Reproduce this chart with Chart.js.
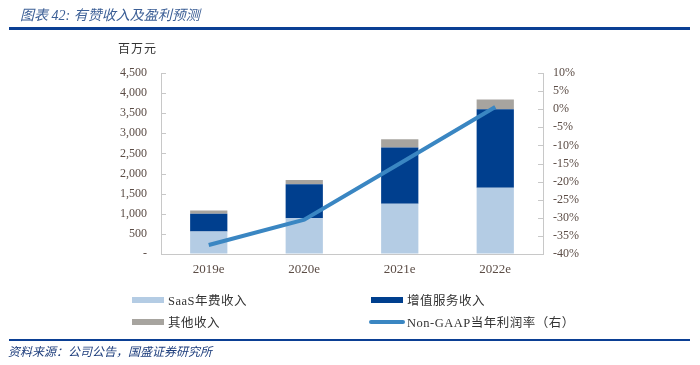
<!DOCTYPE html>
<html><head><meta charset="utf-8">
<script src="https://cdn.jsdelivr.net/npm/chart.js@4.4.1/dist/chart.umd.min.js"></script>
<style>
html,body{margin:0;padding:0;background:#fff;}
#wrap{position:relative;width:700px;height:365px;overflow:hidden;font-family:"Liberation Serif","Noto Sans CJK SC",serif;}
#c{position:absolute;left:0;top:0;}
.title{position:absolute;left:20px;top:4px;font-size:14px;font-style:italic;color:#3c5f96;font-family:"Liberation Serif","Noto Sans CJK SC",serif;}
.rule{position:absolute;left:9px;width:681px;background:#0b3f94;}
.unit{position:absolute;left:118px;top:39px;font-size:12px;color:#333;font-family:"Noto Sans CJK SC",serif;letter-spacing:1px;}
.src{position:absolute;left:8px;top:342px;font-size:12px;font-style:italic;color:#1d3d7c;font-family:"Noto Sans CJK SC",serif;}
.leg{position:absolute;font-size:12.5px;color:#333;font-family:"Liberation Serif","Noto Sans CJK SC",serif;display:flex;align-items:center;white-space:nowrap;letter-spacing:0.5px;}
.sw{display:inline-block;width:32px;height:6px;margin-right:4px;}
.swl{display:inline-block;width:36px;height:4px;border-radius:2px;margin-right:2px;}
</style></head>
<body><div id="wrap">
<canvas id="c" width="700" height="365"></canvas>
<div class="title">图表 42:  有赞收入及盈利预测</div>
<div class="rule" style="top:27px;height:3px;"></div>
<div class="unit">百万元</div>
<div id="legend"></div>
<div class="rule" style="top:339px;height:2px;"></div>
<div class="src">资料来源：公司公告，国盛证券研究所</div>
</div>
<script>
const categories = ["2019e", "2020e", "2021e", "2022e"];
const saasRevenue = [560, 890, 1250, 1650];
const valueAddedRevenue = [440, 845, 1400, 1950];
const otherRevenue = [80, 105, 200, 240];
const nonGaapMargin = [-37.5, -30.5, -15, 0.6];
const leftTickLabels = ["-", "500", "1,000", "1,500", "2,000", "2,500", "3,000", "3,500", "4,000", "4,500"];
const rightTickLabels = ["-40%", "-35%", "-30%", "-25%", "-20%", "-15%", "-10%", "-5%", "0%", "5%", "10%"];
const seriesNames = ["SaaS年费收入", "增值服务收入", "其他收入", "Non-GAAP当年利润率（右）"];
const colors = ["#b4cce4", "#003f8e", "#a7a49f", "#3a86c2"];

// legend (HTML)
const legendPos = [[132, 290], [371, 290], [132, 312], [369, 312]];
const lg = document.getElementById('legend');
seriesNames.forEach((n, i) => {
  const d = document.createElement('div');
  d.className = 'leg';
  d.style.left = legendPos[i][0] + 'px';
  d.style.top = legendPos[i][1] + 'px';
  const s = document.createElement('span');
  s.className = i === 3 ? 'swl' : 'sw';
  s.style.background = colors[i];
  d.appendChild(s);
  d.appendChild(document.createTextNode(n));
  lg.appendChild(d);
});

const axisColor = '#c8c8c8';
const tickFont = {family: "'Liberation Serif', serif", size: 12};
const tickColor = '#5b4c45';

const innerTicks = {
  id: 'innerTicks',
  afterDraw(chart) {
    const ctx = chart.ctx;
    ctx.save();
    ctx.strokeStyle = axisColor;
    ctx.lineWidth = 1;
    const y = chart.scales.y, y1 = chart.scales.y1;
    y.ticks.forEach((t, i) => {
      const p = Math.round(y.getPixelForTick(i)) + 0.5;
      ctx.beginPath(); ctx.moveTo(y.right, p); ctx.lineTo(y.right + 5, p); ctx.stroke();
    });
    y1.ticks.forEach((t, i) => {
      const p = Math.round(y1.getPixelForTick(i)) + 0.5;
      ctx.beginPath(); ctx.moveTo(y1.left - 5, p); ctx.lineTo(y1.left, p); ctx.stroke();
    });
    ctx.restore();
  }
};

new Chart(document.getElementById('c'), {
  data: {
    labels: categories,
    datasets: [
      {type: 'line', label: seriesNames[3], data: nonGaapMargin, yAxisID: 'y1', borderColor: colors[3], borderWidth: 4, pointRadius: 0, tension: 0, order: 0, borderCapStyle: 'butt'},
      {type: 'bar', label: seriesNames[0], data: saasRevenue, backgroundColor: colors[0], yAxisID: 'y', stack: 's', order: 1, categoryPercentage: 1, barPercentage: 0.39},
      {type: 'bar', label: seriesNames[1], data: valueAddedRevenue, backgroundColor: colors[1], yAxisID: 'y', stack: 's', order: 1, categoryPercentage: 1, barPercentage: 0.39},
      {type: 'bar', label: seriesNames[2], data: otherRevenue, backgroundColor: colors[2], yAxisID: 'y', stack: 's', order: 1, categoryPercentage: 1, barPercentage: 0.39}
    ]
  },
  options: {
    responsive: false,
    animation: false,
    layout: {padding: {top: 73, left: 0, right: 0, bottom: 0}},
    plugins: {legend: {display: false}, tooltip: {enabled: false}},
    scales: {
      x: {
        stacked: true,
        grid: {display: true, drawOnChartArea: false, drawTicks: false},
        border: {color: axisColor, width: 1},
        ticks: {font: {family: "'Liberation Serif', serif", size: 13}, color: tickColor, padding: 8},
        afterFit(s) { s.height = 111; }
      },
      y: {
        stacked: true, position: 'left', min: 0, max: 4500,
        grid: {display: true, drawOnChartArea: false, drawTicks: false},
        border: {color: axisColor, width: 1},
        ticks: {stepSize: 500, font: tickFont, color: tickColor, padding: 14,
          callback: (v) => leftTickLabels[Math.round(v / 500)]},
        afterFit(s) { s.width = 161; }
      },
      y1: {
        position: 'right', min: -40, max: 10,
        grid: {display: true, drawOnChartArea: false, drawTicks: false},
        border: {color: axisColor, width: 1},
        ticks: {stepSize: 5, font: tickFont, color: tickColor, padding: 10,
          callback: (v) => rightTickLabels[Math.round((v + 40) / 5)]},
        afterFit(s) { s.width = 157; }
      }
    }
  },
  plugins: [innerTicks]
});
</script>
</body></html>
